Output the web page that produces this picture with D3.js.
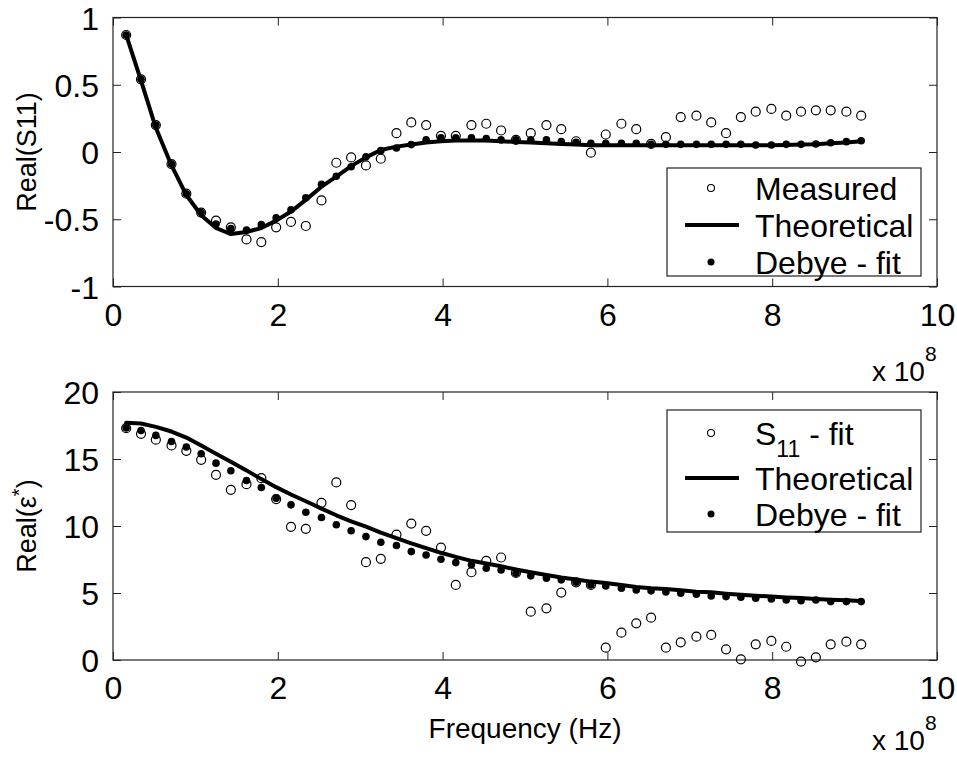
<!DOCTYPE html>
<html>
<head>
<meta charset="utf-8">
<script src="https://cdn.jsdelivr.net/npm/d3@7"></script>
<style>
  body { margin: 0; background: #fff; }
  svg { font-family: "Liberation Sans", Arial, sans-serif; }
</style>
</head>
<body>
<svg id="chart" width="957" height="758"></svg>
<script>
// Frequency points, in units of 1e8 Hz
const freq = [0.16, 0.34, 0.52, 0.71, 0.89, 1.07, 1.25, 1.43, 1.62, 1.80,
  1.98, 2.16, 2.34, 2.53, 2.71, 2.89, 3.07, 3.25, 3.44, 3.62,
  3.80, 3.98, 4.16, 4.35, 4.53, 4.71, 4.89, 5.07, 5.26, 5.44,
  5.62, 5.80, 5.98, 6.17, 6.35, 6.53, 6.71, 6.89, 7.08, 7.26,
  7.44, 7.62, 7.80, 7.99, 8.17, 8.35, 8.53, 8.71, 8.90, 9.08];

// Top panel: Real(S11)
const s11Measured = [0.87, 0.54, 0.20, -0.09, -0.31, -0.45, -0.51, -0.56, -0.65, -0.67,
  -0.56, -0.52, -0.55, -0.36, -0.08, -0.04, -0.10, -0.05, 0.14, 0.22,
  0.20, 0.12, 0.12, 0.20, 0.21, 0.16, 0.09, 0.14, 0.20, 0.17,
  0.08, -0.005, 0.13, 0.21, 0.17, 0.06, 0.11, 0.26, 0.27, 0.22,
  0.14, 0.26, 0.30, 0.32, 0.27, 0.30, 0.31, 0.31, 0.30, 0.27];
const s11Theory = [0.87, 0.53, 0.18, -0.10, -0.32, -0.47, -0.565, -0.61, -0.595, -0.565,
  -0.51, -0.443, -0.356, -0.258, -0.183, -0.105, -0.04, 0.015, 0.04, 0.055,
  0.07, 0.08, 0.085, 0.085, 0.085, 0.08, 0.075, 0.07, 0.065, 0.06,
  0.055, 0.05, 0.05, 0.05, 0.05, 0.05, 0.05, 0.05, 0.05, 0.05,
  0.05, 0.05, 0.05, 0.05, 0.052, 0.055, 0.058, 0.065, 0.07, 0.08];
const s11Debye = [0.87, 0.54, 0.20, -0.09, -0.31, -0.45, -0.535, -0.57, -0.58, -0.54,
  -0.49, -0.43, -0.34, -0.24, -0.18, -0.11, -0.035, 0.01, 0.03, 0.055,
  0.09, 0.105, 0.105, 0.105, 0.10, 0.09, 0.09, 0.09, 0.09, 0.077,
  0.072, 0.065, 0.065, 0.065, 0.065, 0.057, 0.057, 0.057, 0.057, 0.057,
  0.057, 0.057, 0.052, 0.052, 0.057, 0.057, 0.06, 0.069, 0.077, 0.084];

// Bottom panel: Real(eps*)
const epsS11Fit = [17.3, 16.88, 16.44, 16.01, 15.61, 14.94, 13.82, 12.70, 13.12, 13.57,
  12.01, 9.94, 9.79, 11.73, 13.25, 11.56, 7.30, 7.55, 9.36, 10.18,
  9.64, 8.39, 5.60, 6.55, 7.40, 7.65, 6.50, 3.61, 3.86, 5.03,
  5.80, 5.60, 0.92, 2.04, 2.74, 3.16, 0.92, 1.32, 1.74, 1.87,
  0.80, 0.05, 1.17, 1.42, 0.99, -0.12, 0.20, 1.17, 1.37, 1.17];
const epsTheory = [17.7, 17.65, 17.4, 17.05, 16.6, 16.0, 15.4, 14.8, 14.15, 13.5,
  12.9, 12.35, 11.85, 11.3, 10.8, 10.35, 9.95, 9.5, 9.1, 8.7,
  8.35, 8.0, 7.7, 7.4, 7.2, 7.0, 6.75, 6.55, 6.35, 6.15,
  6.0, 5.85, 5.75, 5.6, 5.45, 5.35, 5.3, 5.2, 5.1, 5.05,
  4.95, 4.87, 4.8, 4.73, 4.67, 4.62, 4.55, 4.5, 4.45, 4.4];
const epsDebye = [17.31, 17.13, 16.76, 16.31, 15.89, 15.39, 14.69, 14.12, 13.40, 12.87,
  12.08, 11.58, 11.03, 10.63, 10.09, 9.64, 9.21, 8.79, 8.54, 8.09,
  7.84, 7.52, 7.27, 7.10, 6.85, 6.72, 6.47, 6.28, 6.10, 5.98,
  5.80, 5.60, 5.53, 5.36, 5.23, 5.16, 5.08, 4.98, 4.91, 4.78,
  4.73, 4.68, 4.61, 4.56, 4.48, 4.43, 4.48, 4.36, 4.36, 4.36];

// Ticks
const xTicks = [0, 2, 4, 6, 8, 10];
const s11Ticks = [-1, -0.5, 0, 0.5, 1];
const epsTicks = [0, 5, 10, 15, 20];

const svg = d3.select('#chart');
const left = 113;
const right = 937;
const tickLen = 8;
const tickFont = 32;
const legendFont = 32;

const panel = (cfg) => {
  const x = d3.scaleLinear().domain([0, 10]).range([left, right]);
  const y = d3.scaleLinear().domain(cfg.yDomain).range([cfg.bottom, cfg.top]);
  const g = svg.append('g');

  // axes with inward ticks, on all four sides
  const bottomAx = g.append('g')
    .attr('transform', `translate(0,${cfg.bottom})`)
    .call(d3.axisBottom(x).tickValues(xTicks).tickSize(-tickLen).tickPadding(16).tickFormat(d3.format('d')));
  g.append('g')
    .attr('transform', `translate(0,${cfg.top})`)
    .call(d3.axisTop(x).tickValues(xTicks).tickSize(-tickLen).tickFormat(''));
  const leftAx = g.append('g')
    .attr('transform', `translate(${left},0)`)
    .call(d3.axisLeft(y).tickValues(cfg.yTicks).tickSize(-tickLen).tickPadding(14).tickFormat(d => d));
  g.append('g')
    .attr('transform', `translate(${right},0)`)
    .call(d3.axisRight(y).tickValues(cfg.yTicks).tickSize(-tickLen).tickFormat(''));
  g.selectAll('.domain').remove();
  g.selectAll('.tick line').attr('stroke', '#222');
  g.selectAll('.tick text').attr('font-size', tickFont).attr('fill', '#000')
    .attr('font-family', '"Liberation Sans", Arial, sans-serif');
  bottomAx.selectAll('.tick text').attr('dy', '0.72em');
  leftAx.selectAll('.tick text').attr('dy', '0.36em');

  g.append('rect')
    .attr('x', left).attr('y', cfg.top)
    .attr('width', right - left).attr('height', cfg.bottom - cfg.top)
    .attr('fill', 'none').attr('stroke', '#222').attr('stroke-width', 1.2);

  // x 10^8 multiplier
  const mult = g.append('text')
    .attr('x', 872).attr('y', cfg.multY)
    .attr('font-size', 28);
  mult.append('tspan').text('x 10');
  mult.append('tspan').attr('dy', -20).attr('font-size', 21).text('8');

  // y label
  const yl = g.append('text')
    .attr('transform', `translate(36,${(cfg.top + cfg.bottom) / 2}) rotate(-90)`)
    .attr('text-anchor', 'middle')
    .attr('font-size', 27);
  cfg.yLabel(yl);

  // theoretical line
  g.append('path')
    .datum(freq.map((f, i) => [f, cfg.theory[i]]))
    .attr('fill', 'none').attr('stroke', '#000').attr('stroke-width', 4)
    .attr('stroke-linejoin', 'round').attr('stroke-linecap', 'round')
    .attr('d', d3.line().x(d => x(d[0])).y(d => y(d[1])));

  // debye fit dots
  g.append('g').selectAll('circle')
    .data(freq.map((f, i) => [f, cfg.debye[i]]))
    .join('circle')
    .attr('cx', d => x(d[0])).attr('cy', d => y(d[1]))
    .attr('r', 3.8).attr('fill', '#000');

  // open circles
  g.append('g').selectAll('circle')
    .data(freq.map((f, i) => [f, cfg.open[i]]))
    .join('circle')
    .attr('cx', d => x(d[0])).attr('cy', d => y(d[1]))
    .attr('r', 4.5).attr('fill', 'none').attr('stroke', '#000').attr('stroke-width', 1.2);

  // legend
  const lg = cfg.legend;
  g.append('rect')
    .attr('x', 667).attr('y', lg.top).attr('width', 254).attr('height', lg.height)
    .attr('fill', '#fff').attr('stroke', '#222').attr('stroke-width', 1.2);
  const rows = lg.rows;
  g.append('circle').attr('cx', 711).attr('cy', rows[0]).attr('r', 3.5)
    .attr('fill', 'none').attr('stroke', '#000').attr('stroke-width', 1.1);
  g.append('line').attr('x1', 685).attr('x2', 739).attr('y1', rows[1]).attr('y2', rows[1])
    .attr('stroke', '#000').attr('stroke-width', 4);
  g.append('circle').attr('cx', 711).attr('cy', rows[2]).attr('r', 3.5).attr('fill', '#000');
  const t0 = g.append('text').attr('x', 755).attr('y', rows[0]).attr('dy', '0.36em').attr('font-size', legendFont);
  lg.first(t0);
  g.append('text').attr('x', 755).attr('y', rows[1]).attr('dy', '0.36em').attr('font-size', legendFont).text('Theoretical');
  g.append('text').attr('x', 755).attr('y', rows[2]).attr('dy', '0.36em').attr('font-size', legendFont).text('Debye - fit');
};

panel({
  top: 17.5, bottom: 286.5, yDomain: [-1, 1], yTicks: s11Ticks, multY: 381,
  open: s11Measured, theory: s11Theory, debye: s11Debye,
  yLabel: (t) => t.text('Real(S11)'),
  legend: { top: 168, height: 108, rows: [188, 225, 262],
    first: (t) => t.text('Measured') },
});

panel({
  top: 392, bottom: 660, yDomain: [0, 20], yTicks: epsTicks, multY: 750,
  open: epsS11Fit, theory: epsTheory, debye: epsDebye,
  yLabel: (t) => {
    t.append('tspan').text('Real(ε');
    t.append('tspan').attr('dy', -10).attr('font-size', 20).text('*');
    t.append('tspan').attr('dy', 10).text(')');
  },
  legend: { top: 410, height: 122, rows: [433, 478, 514],
    first: (t) => {
      t.append('tspan').text('S');
      t.append('tspan').attr('dy', 12).attr('font-size', 23).text('11');
      t.append('tspan').attr('dy', -12).text(' - fit');
    } },
});

// x axis label
svg.append('text')
  .attr('x', 525).attr('y', 738)
  .attr('text-anchor', 'middle')
  .attr('font-size', 28)
  .text('Frequency (Hz)');
</script>
</body>
</html>
